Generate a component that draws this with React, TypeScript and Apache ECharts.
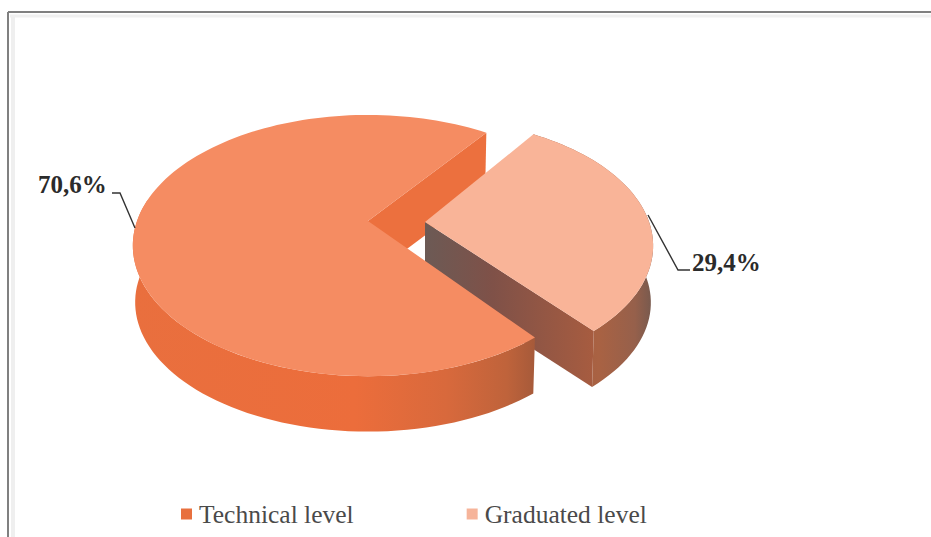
import React, { useEffect, useRef } from "react";
import * as echarts from "echarts";

const categories = ["Technical level", "Graduated level"];
const shares = [70.6, 29.4];
const topColors = ["#f58c62", "#f9b498"];
const legendColors = ["#e8703e", "#f6b49a"];

// Pseudo-3D disc: a circle seen through a mild perspective, then extruded downwards.
const RX = 231;
const RY = 126;
const PERSPECTIVE = 0.188;
const DEPTH = 57;
const BASE_SCALE = 0.99;
const anchors = [
  { x: 368, y: 221, start: 52, scale: 1 },
  { x: 425, y: 222, start: -56, scale: 0.97 },
];

type Pt = number[];

function project(slice: number, deg: number, bottom = false): Pt {
  const a = anchors[slice];
  const t = (deg * Math.PI) / 180;
  const u = Math.cos(t);
  const v = Math.sin(t);
  const w = 1 - PERSPECTIVE * v;
  const s = (bottom ? BASE_SCALE : 1) * a.scale;
  return [a.x + (s * RX * u) / w, a.y + (bottom ? DEPTH : 0) + (s * RY * v) / w];
}

function apex(slice: number, bottom = false): Pt {
  const a = anchors[slice];
  return [a.x, a.y + (bottom ? DEPTH : 0)];
}

function arc(slice: number, from: number, to: number, bottom = false): Pt[] {
  const n = Math.max(2, Math.ceil(Math.abs(to - from) / 2));
  const pts: Pt[] = [];
  for (let i = 0; i <= n; i++) pts.push(project(slice, from + ((to - from) * i) / n, bottom));
  return pts;
}

const grad = (stops: [number, string][], x0 = 0, x1 = 1, y0 = 0, y1 = 0) =>
  new echarts.graphic.LinearGradient(x0, y0, x1, y1, stops.map(([offset, color]) => ({ offset, color })));

const polygon = (points: Pt[], fill: any, z2: number) => ({
  type: "polygon",
  z2,
  shape: { points },
  style: { fill },
});

const pctText = (v: number) => `${String(v).replace(".", ",")}%`;

const labelStyle = {
  fontFamily: "Liberation Serif",
  fontWeight: "bold",
  fontSize: 25,
  fill: "#2b2b2b",
  verticalAlign: "middle",
  shadowBlur: 3,
  shadowColor: "rgba(90,90,90,0.5)",
};

const leader = (points: Pt[], z2: number) => ({
  type: "polyline",
  z2,
  shape: { points },
  style: { stroke: "#333333", lineWidth: 1.4, fill: "none" },
});

// Technical level: the large slice. Its cut wall sits behind the exploded slice, its face in front.
function renderLarge(_params: any, api: any) {
  const value = api.value(0);
  const span = (value / 100) * 360;
  const start = anchors[0].start;
  const end = start + span;
  const children: any[] = [];
  // far cut wall, seen through the open notch
  children.push(
    polygon([apex(0), project(0, end), project(0, end, true), apex(0, true)], "#ec703e", 1)
  );
  // outer rim, from the near cut round to the left tangent
  const rimTop = arc(0, start, 190);
  const rimBottom = arc(0, start, 190, true).reverse();
  children.push(
    polygon(
      [...rimTop, ...rimBottom],
      grad([
        [0, "#e96f3e"],
        [0.55, "#ec6d3b"],
        [0.78, "#d8693c"],
        [0.93, "#bf633b"],
        [1, "#a65a3a"],
      ]),
      5
    )
  );
  // top face
  children.push(polygon([apex(0), ...arc(0, start, end)], topColors[0], 6));
  // leader and percentage
  children.push(leader([[112, 193], [120, 193], [135, 228]], 7));
  children.push({
    type: "text",
    z2: 7,
    style: { ...labelStyle, text: pctText(value), x: 38, y: 184 },
  });
  return { type: "group", children };
}

// Graduated level: the exploded slice, with its cut wall and rim in brown shadow.
function renderSmall(_params: any, api: any) {
  const value = api.value(0);
  const span = (value / 100) * 360;
  const start = anchors[1].start;
  const end = start + span;
  const children: any[] = [];
  children.push(
    polygon(
      [...arc(1, start, end), ...arc(1, start, end, true).reverse()],
      grad([
        [0, "#9e5a40"],
        [0.55, "#a96243"],
        [0.85, "#96604b"],
        [1, "#75594e"],
      ]),
      2
    )
  );
  children.push(
    polygon(
      [apex(1), project(1, end), project(1, end, true), apex(1, true)],
      grad([
        [0, "#6c5a55"],
        [0.4, "#7f5148"],
        [1, "#a75c40"],
      ]),
      3
    )
  );
  children.push(polygon([apex(1), ...arc(1, start, end)], topColors[1], 4));
  children.push(leader([[648, 215], [678, 270], [690, 270]], 7));
  children.push({
    type: "text",
    z2: 7,
    style: { ...labelStyle, text: pctText(value), x: 692, y: 262 },
  });
  return { type: "group", children };
}

export default function App() {
  const ref = useRef<HTMLDivElement>(null);
  useEffect(() => {
    const chart = echarts.init(ref.current!, null, { renderer: "svg" });
    chart.setOption({
      animation: false,
      backgroundColor: "#ffffff",
      legend: {
        left: 181,
        top: 501,
        padding: 0,
        itemWidth: 11,
        itemHeight: 11,
        itemGap: 113,
        icon: "rect",
        data: categories.map((name, i) => ({
          name,
          itemStyle: { color: legendColors[i] },
        })),
        textStyle: {
          fontFamily: "Liberation Serif",
          fontSize: 25.5,
          color: "#4a4a4a",
          padding: [0, 0, 0, 2],
        },
      },
      graphic: [
        { type: "line", shape: { x1: 8, y1: 12, x2: 931, y2: 12 }, style: { stroke: "#808080", lineWidth: 2 } },
        { type: "line", shape: { x1: 8, y1: 12, x2: 8, y2: 537 }, style: { stroke: "#808080", lineWidth: 2 } },
        { type: "line", shape: { x1: 13, y1: 15, x2: 13, y2: 537 }, style: { stroke: "#efefef", lineWidth: 4 } },
        { type: "line", shape: { x1: 10, y1: 16, x2: 931, y2: 16 }, style: { stroke: "#f0f0f0", lineWidth: 3 } },
      ],
      series: [
        {
          type: "custom",
          name: categories[0],
          coordinateSystem: "none",
          renderItem: renderLarge,
          data: [[shares[0]]],
          silent: true,
          itemStyle: { color: legendColors[0] },
        },
        {
          type: "custom",
          name: categories[1],
          coordinateSystem: "none",
          renderItem: renderSmall,
          data: [[shares[1]]],
          silent: true,
          itemStyle: { color: legendColors[1] },
        },
      ],
    });
    return () => chart.dispose();
  }, []);
  return (
    <div
      ref={ref}
      style={{ position: "absolute", left: 0, top: 0, width: 931, height: 537 }}
    />
  );
}
